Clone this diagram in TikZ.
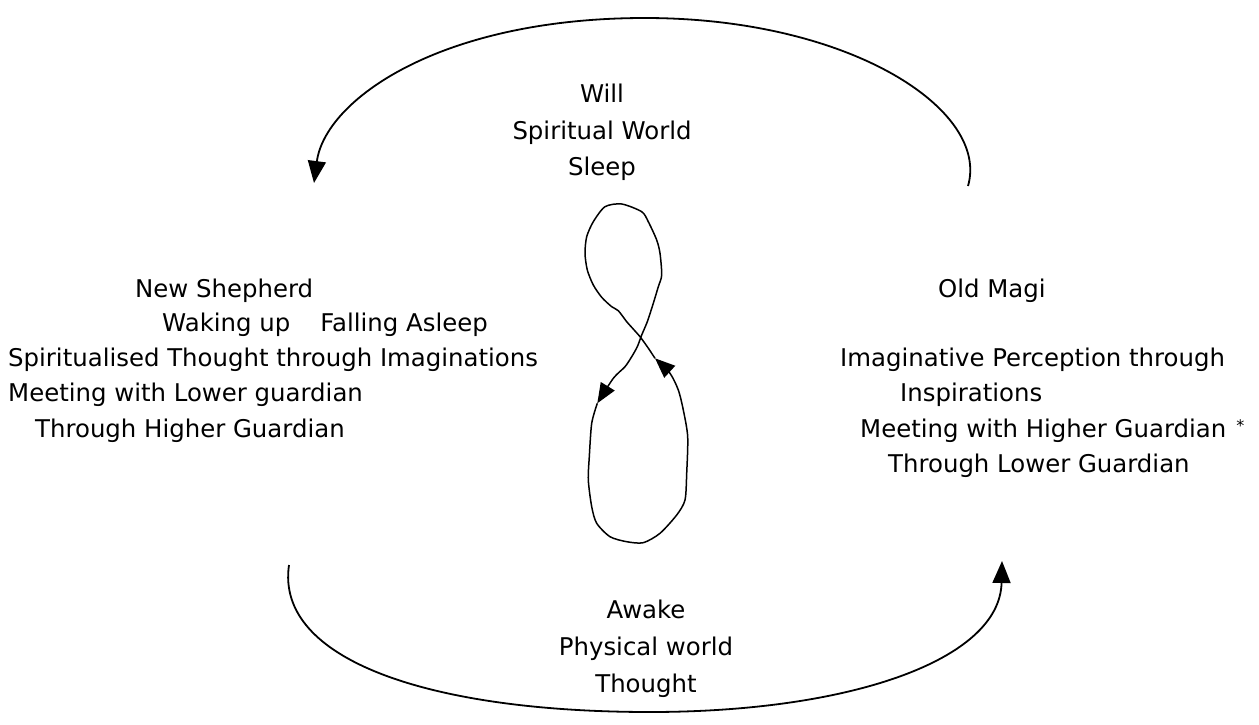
\documentclass[tikz,border=0pt]{standalone}
\usepackage{fontspec}
\setmainfont{DejaVu Sans}
\usetikzlibrary{arrows.meta}
\begin{document}
\begin{tikzpicture}[x=1pt,y=-1pt,
  lbl/.style={font=\fontsize{24.4}{28}\selectfont, inner sep=0pt, anchor=base west},
  clbl/.style={font=\fontsize{24.4}{28}\selectfont, inner sep=0pt, anchor=base},
  bigarc/.style={line width=1.8pt, -{Triangle[length=22pt,width=18pt]}},
  loopline/.style={line width=1.5pt, line join=round},
  looparrow/.style={-{Triangle[length=20pt,width=16pt]}}]
\useasboundingbox (0,0) rectangle (1259,724);

% top block
\node[clbl] (will) at (602,102) {Will};
\node[clbl] (spw) at (602,139) {Spiritual World};
\node[clbl] (sleep) at (602,175) {Sleep};

% left block
\node[lbl] (ns) at (135,297) {New Shepherd};
\node[lbl] (wake) at (162,331) {Waking up\hspace{30pt}Falling Asleep};
\node[lbl] (spt) at (8,366) {Spiritualised Thought through Imaginations};
\node[lbl] (mlg) at (8,401) {Meeting with Lower guardian};
\node[lbl] (thg) at (35,437) {Through Higher Guardian};

% right block
\node[lbl] (om) at (938,297) {Old Magi};
\node[lbl] (ipt) at (840,366) {Imaginative Perception through};
\node[lbl] (insp) at (900,401) {Inspirations};
\node[lbl] (mhg) at (860,437) {Meeting with Higher Guardian\hspace{10pt}\raisebox{6pt}{\fontsize{16}{16}\selectfont *}};
\node[lbl] (tlg) at (888,472) {Through Lower Guardian};

% bottom block
\node[clbl] (awake) at (646,618) {Awake};
\node[clbl] (phw) at (646,655) {Physical world};
\node[clbl] (thought) at (646,692) {Thought};

% arc end points
\coordinate (tr) at (968,186);
\coordinate (ttop) at (645,18);
\coordinate (tl) at (314,183);
\coordinate (bl) at (289,565);
\coordinate (bbot) at (650,712);
\coordinate (br) at (1002,561);

\draw[bigarc] (tr) .. controls (990,110) and (850,18) .. (ttop)
              .. controls (440,18) and (325,100) .. (tl);
\draw[bigarc] (bl) .. controls (275,660) and (430,712) .. (bbot)
              .. controls (850,712) and (1000,660) .. (br);

% figure-eight
\coordinate (la) at (597.3,403.3);
\coordinate (ua) at (655,358.3);
\draw[loopline, looparrow] plot[smooth, tension=0.45] coordinates {
  (597.3,403.3) (591.7,423.3) (589.3,456.7) (588.3,480) (591.7,506.7)
  (596.7,523.3) (610,536.7) (626.7,541.7) (643.3,542.7) (660,533.3)
  (676.7,515) (685,500) (686.7,473.3) (687.7,436.7) (683.3,410)
  (678.3,390) (670,373.3) (655,358.3)};
\draw[loopline, looparrow] plot[smooth, tension=0.45] coordinates {
  (655,358.3) (647.3,346.7) (640,336.7) (631.7,327.3) (626.7,321.7)
  (618.3,310.7) (611.7,306.7) (601.7,297.3) (593.3,285) (587.3,270)
  (585,253.3) (586.7,236.7) (593.3,221.7) (605,206.7) (621.7,204)
  (641.7,211.7) (648.3,221.7) (656.7,240) (660,253.3) (661.7,275)
  (658.3,286.7) (653.3,303.3) (647.3,321.7) (641.7,335) (637.3,346.7)
  (631.7,356.7) (625,366.7) (613.3,378.3) (597.3,403.3)};
\end{tikzpicture}
\end{document}
